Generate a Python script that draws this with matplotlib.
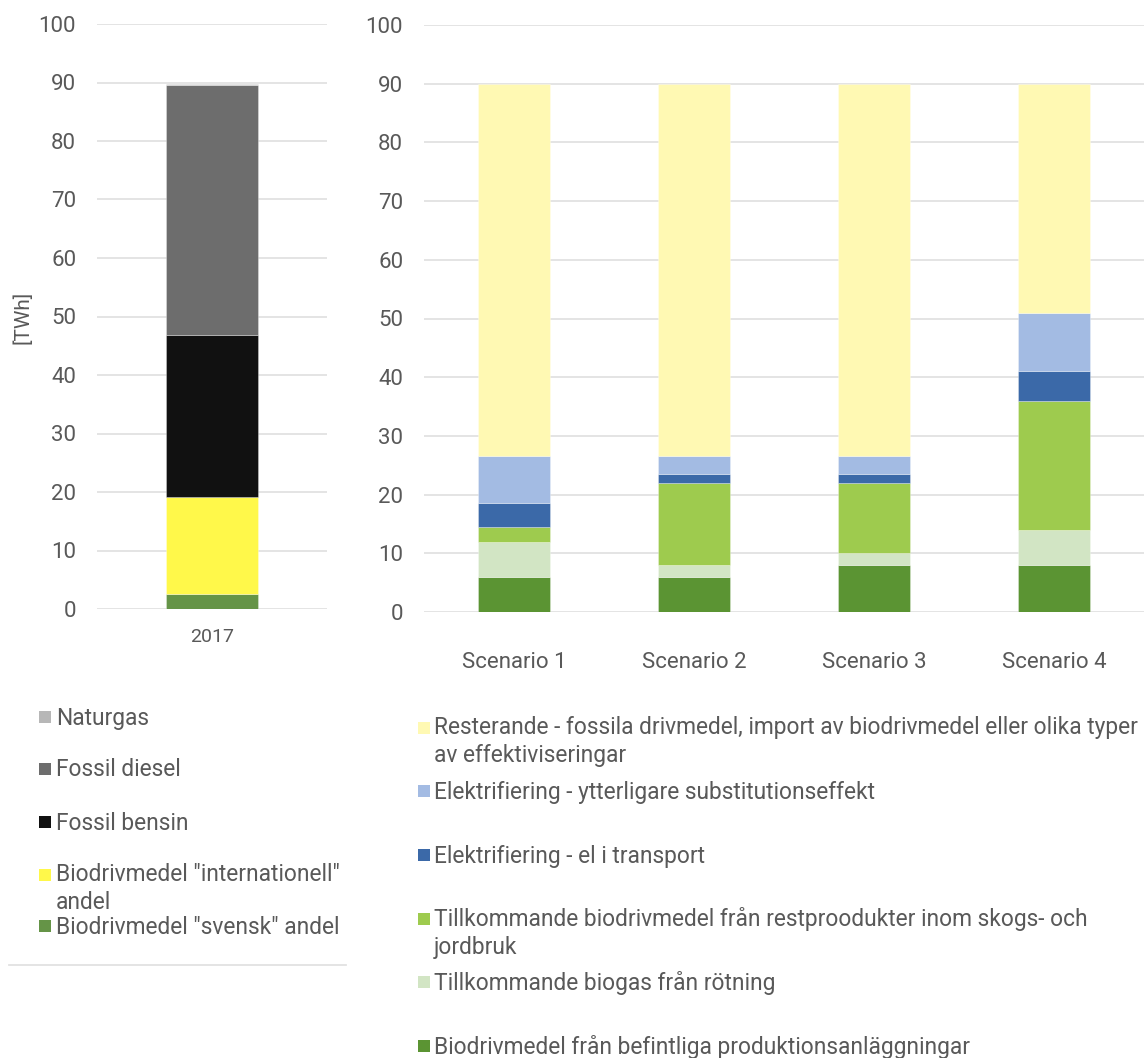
import numpy as np
import matplotlib.pyplot as plt
from matplotlib.patches import Rectangle

plt.rcParams['font.family'] = ['Roboto', 'DejaVu Sans']

# --- 2017: fuel use split by source [TWh]
years = ["2017"]
bio_svensk = [2.6]
bio_internationell = [16.6]
fossil_bensin = [27.6]
fossil_diesel = [42.8]
naturgas = [0.2]

left_labels = ["Naturgas", "Fossil diesel", "Fossil bensin",
               "Biodrivmedel \"internationell\"\nandel", "Biodrivmedel \"svensk\" andel"]
left_colors = ["#b7b7b7", "#6d6d6d", "#111111", "#fff84a", "#659447"]

# --- scenarios [TWh]
scenarios = ["Scenario 1", "Scenario 2", "Scenario 3", "Scenario 4"]
befintliga = [6, 6, 8, 8]
biogas = [6, 2, 2, 6]
restprodukter = [2.5, 14, 12, 22]
el_transport = [4, 1.5, 1.5, 5]
substitution = [8, 3, 3, 10]
resterande = [63.5, 63.5, 63.5, 39]

right_labels = ["Resterande - fossila drivmedel, import av biodrivmedel eller olika typer\nav effektiviseringar",
                "Elektrifiering - ytterligare substitutionseffekt",
                "Elektrifiering - el i transport",
                "Tillkommande biodrivmedel från restproodukter inom skogs- och\njordbruk",
                "Tillkommande biogas från rötning",
                "Biodrivmedel från befintliga produktionsanläggningar"]
right_colors = ["#fff9b3", "#a3bbe3", "#3b69a8", "#9ecb4e", "#d2e5c4", "#5b9433"]

TXT = "#595959"
GRID = "#e2e2e2"
W, H = 1148, 1058
LEG_FS = 16.4

fig = plt.figure(figsize=(W / 100, H / 100), dpi=100)


def fx(px):
    return px / W


def fy(py):
    return 1 - py / H


def style_axis(ax):
    for s in ax.spines.values():
        s.set_visible(False)
    ax.set_ylim(0, 100)
    ax.set_yticks(np.arange(0, 101, 10))
    ax.yaxis.grid(True, color=GRID, lw=1.3)
    ax.set_axisbelow(True)
    ax.tick_params(axis='y', length=0, pad=15, labelsize=16, labelcolor=TXT)
    ax.tick_params(axis='x', length=0, labelcolor=TXT)


# left chart
axl = fig.add_axes([fx(97), fy(609), fx(327 - 97), (609 - 24) / H])
style_axis(axl)
x = np.arange(len(years))
bottom = np.zeros(len(years))
for vals, col in zip([bio_svensk, bio_internationell, fossil_bensin, fossil_diesel, naturgas],
                     left_colors[::-1]):
    axl.bar(x, vals, 0.396, bottom=bottom, color=col, edgecolor=(1, 1, 1, 0.35), lw=0.6)
    bottom += np.array(vals)
axl.set_xlim(-0.5, 0.5)
axl.set_xticks(x)
axl.set_xticklabels(years, fontsize=14)
axl.tick_params(axis='x', pad=14)
fig.text(fx(23), fy(317), "[TWh]", rotation=90, ha='center', va='center',
         fontsize=15, color=TXT)

# right chart
axr = fig.add_axes([fx(424), fy(612), fx(1144 - 424), (612 - 25) / H])
style_axis(axr)
x = np.arange(len(scenarios))
bottom = np.zeros(len(scenarios))
for vals, col in zip([befintliga, biogas, restprodukter, el_transport, substitution, resterande],
                     right_colors[::-1]):
    axr.bar(x, vals, 0.4, bottom=bottom, color=col, edgecolor=(1, 1, 1, 0.35), lw=0.6)
    bottom += np.array(vals)
axr.set_xlim(-0.5, 3.5)
axr.set_xticks(x)
axr.set_xticklabels(scenarios, fontsize=16)
axr.tick_params(axis='x', pad=29)


# legends drawn as swatch + text at fixed slots
def legend_entry(px, py, color, label, text_x):
    fig.add_artist(Rectangle((fx(px), fy(py + 5)), fx(12), 12 / H,
                             transform=fig.transFigure, color=color, lw=0))
    if '\n' in label:
        fig.text(fx(text_x), fy(py - 13), label, ha='left', va='top', fontsize=LEG_FS,
                 color=TXT, linespacing=1.3)
    else:
        fig.text(fx(text_x), fy(py), label, ha='left', va='center', fontsize=LEG_FS,
                 color=TXT)


left_y = [718, 770, 823, 876, 927]
for yy, lab, col in zip(left_y, left_labels, left_colors):
    legend_entry(39, yy, col, lab, 56)
fig.add_artist(plt.Line2D([fx(9), fx(346)], [fy(965), fy(965)], color=GRID, lw=1.3))

right_y = [729, 792, 856, 920, 983, 1047]
for yy, lab, col in zip(right_y, right_labels, right_colors):
    legend_entry(418, yy, col, lab, 434)

fig.savefig("out.png", dpi=100, facecolor="white")
